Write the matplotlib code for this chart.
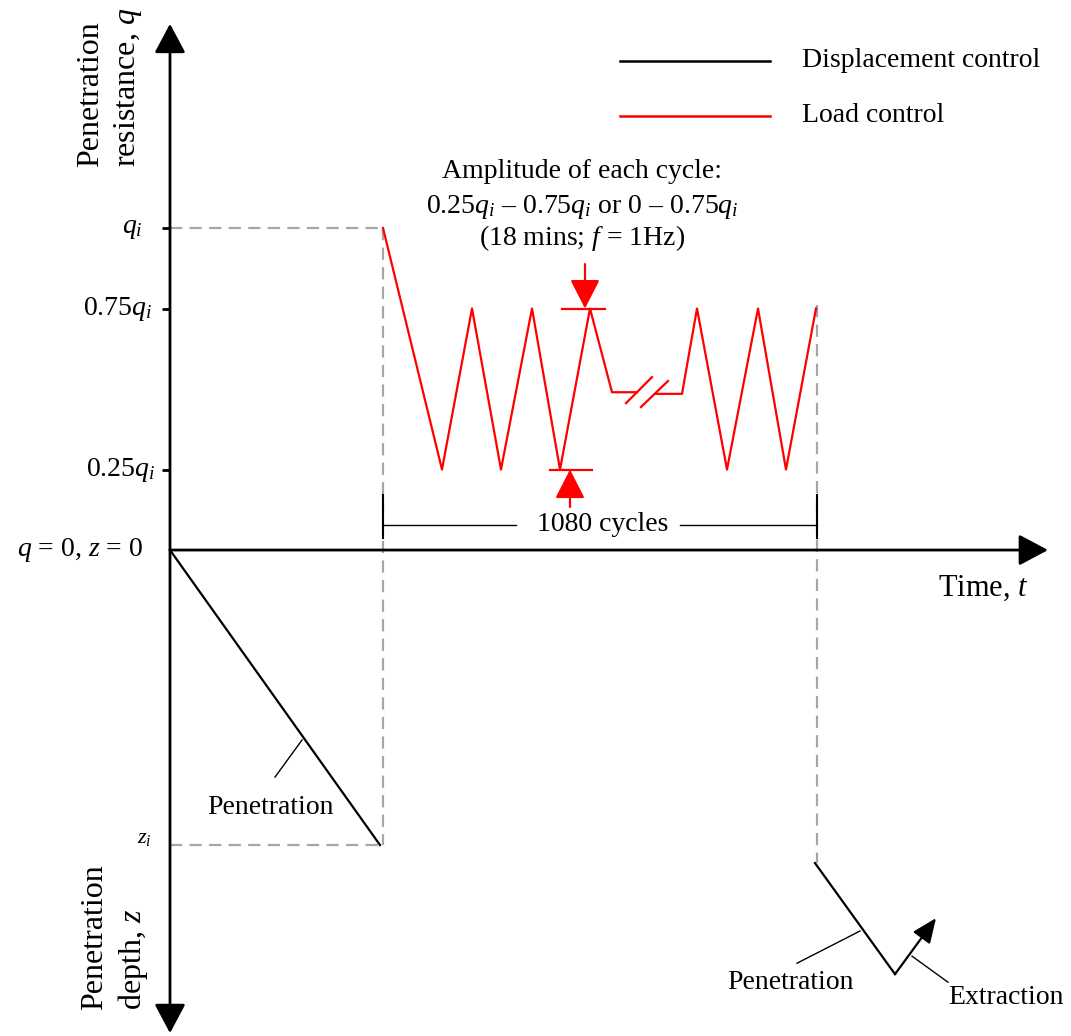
import matplotlib
matplotlib.use("Agg")
import matplotlib.pyplot as plt

plt.rcParams['font.family'] = ['Liberation Serif', 'DejaVu Serif']
plt.rcParams['mathtext.fontset'] = 'custom'
plt.rcParams['mathtext.rm'] = 'Liberation Serif'
plt.rcParams['mathtext.it'] = 'Liberation Serif:italic'

# schematic values: time (arbitrary units), q / qi above the axis, depth below it
z_i = -0.916                      # plotted level of z_i
t_pen_end = 2.13                   # end of displacement-controlled penetration
t_cyc_end = 6.47                   # end of the 1080 cycles

# load control (red), split by the break symbol
t_load_a = [2.13, 2.72, 3.02, 3.31, 3.62, 3.90, 4.20, 4.42, 4.67]
q_load_a = [1.00, 0.25, 0.75, 0.25, 0.75, 0.25, 0.75, 0.49, 0.49]
t_load_b = [4.85, 5.12, 5.27, 5.57, 5.88, 6.16, 6.46]
q_load_b = [0.485, 0.485, 0.75, 0.25, 0.75, 0.25, 0.75]

# displacement control (black)
t_pen1 = [0.0, 2.10]
y_pen1 = [0.0, z_i]
t_pen2 = [6.45, 7.25]
y_pen2 = [-0.972, -1.317]
t_extract = [7.25, 7.66]
y_extract = [-1.317, -1.143]

# y-axis ticks
q_ticks = [1.0, 0.75, 0.25]
q_tick_labels = ['$q_i$', '0.75$q_i$', '0.25$q_i$']
q_tick_label_x = [-0.27, -0.18, -0.15]

RED = '#FF0000'
GREY = '#A6A6A6'
FS = 20

fig = plt.figure(figsize=(10.71, 10.36), dpi=100)
ax = fig.add_axes([0, 0, 1, 1])
ax.set_xlim(-1.70, 9.01)
ax.set_ylim(-1.509, 1.708)
ax.axis('off')

# axes with arrows
arrow_kw = dict(arrowstyle='-|>,head_length=0.9,head_width=0.48', color='black',
                lw=2.0, shrinkA=0, shrinkB=0, mutation_scale=20)
ax.annotate('', xy=(0, 1.634), xytext=(0, 0), arrowprops=arrow_kw)
ax.annotate('', xy=(0, -1.50), xytext=(0, 0), arrowprops=arrow_kw)
ax.annotate('', xy=(8.78, 0), xytext=(0, 0), arrowprops=arrow_kw)

# tick marks and labels
for q, lab, lx in zip(q_ticks, q_tick_labels, q_tick_label_x):
    ax.plot([-0.08, 0], [q, q], color='black', lw=2.0, solid_capstyle='butt')
    ax.text(lx, q, lab, ha='right', va='center', fontsize=FS)
ax.text(-0.27, 0, '$q$ = 0, $z$ = 0', ha='right', va='center', fontsize=FS)
ax.text(-0.18, z_i + 0.02, '$z_i$', ha='right', va='center', fontsize=16)

ax.text(-0.60, 1.189, 'Penetration\nresistance, $q$', rotation=90, ha='center',
        va='bottom', multialignment='left', fontsize=23, linespacing=1.3)
ax.text(-0.55, -1.429, 'Penetration\ndepth, $z$', rotation=90, ha='center',
        va='bottom', multialignment='left', fontsize=23, linespacing=1.25)
ax.text(8.13, -0.118, 'Time, $t$', ha='center', va='center', fontsize=22)

# grey guide lines
dash_kw = dict(color=GREY, lw=1.6, dashes=(5.5, 3.3))
ax.plot([0, t_pen_end], [1.0, 1.0], **dash_kw)
ax.plot([t_pen_end, t_pen_end], [1.0, z_i], **dash_kw)
ax.plot([0, t_pen_end], [z_i, z_i], **dash_kw)
ax.plot([t_cyc_end, t_cyc_end], [0.76, -0.972], **dash_kw)

# displacement control
ax.plot(t_pen1, y_pen1, color='black', lw=1.6)
ax.plot(t_pen2, y_pen2, color='black', lw=1.6)
ax.annotate('', xy=(t_extract[1], y_extract[1]), xytext=(t_extract[0], y_extract[0]),
            arrowprops=dict(arrowstyle='-|>,head_length=0.75,head_width=0.32',
                            color='black', lw=1.6, shrinkA=0, shrinkB=0,
                            mutation_scale=20))

# load control
ax.plot(t_load_a, q_load_a, color=RED, lw=1.6)
ax.plot(t_load_b, q_load_b, color=RED, lw=1.6)
ax.plot([4.56, 4.82], [0.456, 0.537], color=RED, lw=1.6)
ax.plot([4.71, 4.98], [0.444, 0.525], color=RED, lw=1.6)

# amplitude markers
red_arrow = dict(arrowstyle='-|>,head_length=0.9,head_width=0.46', color=RED,
                 lw=1.6, shrinkA=0, shrinkB=0, mutation_scale=20)
ax.annotate('', xy=(4.15, 0.75), xytext=(4.15, 0.888), arrowprops=red_arrow)
ax.annotate('', xy=(4.00, 0.25), xytext=(4.00, 0.134), arrowprops=red_arrow)
ax.plot([3.92, 4.35], [0.75, 0.75], color=RED, lw=1.6)
ax.plot([3.80, 4.22], [0.25, 0.25], color=RED, lw=1.6)

ax.text(4.12, 1.174, 'Amplitude of each cycle:', ha='center', va='center', fontsize=FS)
ax.text(4.12, 1.065, '0.25$q_i$ – 0.75$q_i$ or 0 – 0.75$q_i$', ha='center',
        va='center', fontsize=FS)
ax.text(4.12, 0.969, '(18 mins; $f$ = 1Hz)', ha='center', va='center', fontsize=FS)

# 1080 cycles dimension
y_dim = 0.078
ax.plot([t_pen_end, t_pen_end], [0.171, 0.037], color='black', lw=1.5)
ax.plot([t_cyc_end, t_cyc_end], [0.171, 0.037], color='black', lw=1.5)
ax.plot([t_pen_end, 3.46], [y_dim, y_dim], color='black', lw=1.0)
ax.plot([5.10, t_cyc_end], [y_dim, y_dim], color='black', lw=1.0)
ax.text(4.33, y_dim, '1080 cycles', ha='center', va='center', fontsize=FS)

# leaders and phase labels
ax.plot([1.32, 1.05], [-0.590, -0.705], color='black', lw=1.0)
ax.text(1.00, -0.798, 'Penetration', ha='center', va='center', fontsize=FS)
ax.plot([6.90, 6.27], [-1.183, -1.283], color='black', lw=1.0)
ax.text(6.20, -1.342, 'Penetration', ha='center', va='center', fontsize=FS)
ax.plot([7.42, 7.78], [-1.261, -1.342], color='black', lw=1.0)
ax.text(8.36, -1.391, 'Extraction', ha='center', va='center', fontsize=FS)

# legend
ax.plot([4.50, 6.00], [1.519, 1.519], color='black', lw=1.8)
ax.plot([4.50, 6.00], [1.348, 1.348], color=RED, lw=1.8)
ax.text(6.32, 1.519, 'Displacement control', ha='left', va='center', fontsize=FS)
ax.text(6.32, 1.348, 'Load control', ha='left', va='center', fontsize=FS)

fig.savefig('out.png', dpi=100)
